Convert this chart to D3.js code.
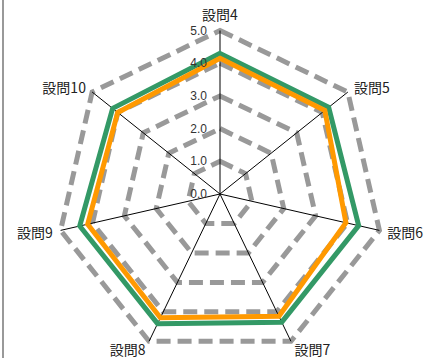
<!DOCTYPE html>
<html><head><meta charset="utf-8">
<script src="https://cdn.jsdelivr.net/npm/d3@7"></script>
<style>html,body{margin:0;padding:0;background:#fff;}svg{display:block;}</style>
</head><body>
<script>
const categories = ["設問4","設問5","設問6","設問7","設問8","設問9","設問10"];
const seriesGreen = [4.3, 4.25, 4.35, 4.35, 4.4, 4.4, 4.2];
const seriesOrange = [4.15, 4.1, 3.95, 4.15, 4.2, 4.15, 4.0];
const tickValues = [0, 1, 2, 3, 4, 5];
const tickLabels = ["0.0","1.0","2.0","3.0","4.0","5.0"];

const W = 443, H = 358, cx = 220, cy = 194, R = 163.5;
const svg = d3.select("body").append("svg").attr("width", W).attr("height", H);

svg.append("line").attr("x1",3).attr("x2",3).attr("y1",0).attr("y2",H)
  .attr("stroke","#999").attr("stroke-width",2);

const r = d3.scaleLinear().domain([0,5]).range([0,R]);
const n = categories.length;
const ang = i => i * 2 * Math.PI / n;
const pt = (i, v) => [cx + r(v) * Math.sin(ang(i)), cy - r(v) * Math.cos(ang(i))];
const line = d3.line().curve(d3.curveLinearClosed);
const g = svg.append("g");

// grid
tickValues.filter(t => t > 0).forEach(t => {
  g.append("path").attr("d", line(categories.map((c,i) => pt(i,t))))
    .attr("fill","none").attr("stroke","#999").attr("stroke-width",5)
    .attr("stroke-dasharray","14,7");
});
// axes
categories.forEach((c,i) => {
  const p = pt(i,5);
  g.append("line").attr("x1",cx).attr("y1",cy).attr("x2",p[0]).attr("y2",p[1])
    .attr("stroke","#000").attr("stroke-width",1);
});
// series
[[seriesGreen,"#339966"],[seriesOrange,"#ff9900"]].forEach(([s,col]) => {
  g.append("path").attr("d", line(s.map((v,i) => pt(i,v))))
    .attr("fill","none").attr("stroke",col).attr("stroke-width",5)
    .attr("stroke-linejoin","miter");
});
// tick labels
tickValues.forEach((t,k) => {
  g.append("text").attr("x", cx - 13).attr("y", cy - r(t))
    .attr("text-anchor","end").attr("dominant-baseline","central")
    .attr("font-family","Liberation Sans, Arial, sans-serif").attr("font-size",12)
    .attr("fill","#333").text(tickLabels[k]);
});
// axis labels
categories.forEach((c,i) => {
  const a = ang(i), dx = Math.sin(a);
  const p = pt(i, 5 + 8 / r(1));
  const t = g.append("text").attr("font-family","Noto Sans CJK JP, sans-serif")
    .attr("font-size",14).attr("fill","#222").text(c);
  if (Math.abs(dx) < 0.01) {
    t.attr("x", p[0]).attr("y", p[1] - 3).attr("text-anchor","middle");
  } else {
    t.attr("x", p[0]).attr("y", p[1]).attr("dominant-baseline","central")
      .attr("text-anchor", dx > 0 ? "start" : "end");
  }
});
</script>
</body></html>
